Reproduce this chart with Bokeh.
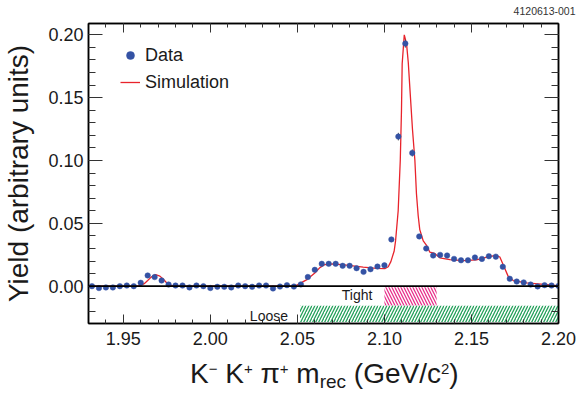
from bokeh.plotting import figure
from bokeh.layouts import column
from bokeh.models import (Range1d, LinearAxis, SingleIntervalTicker, PrintfTickFormatter,
                          Span, Label, Legend, LegendItem, ColumnDataSource, Title,
                          CustomLabelingPolicy, Div)
from bokeh.embed import file_html
from bokeh.resources import INLINE

# ---------------- data ----------------
data_x = [1.932, 1.936, 1.940, 1.944, 1.948, 1.952, 1.956, 1.960, 1.964, 1.968,
          1.972, 1.976, 1.980, 1.984, 1.988, 1.992, 1.996, 2.000, 2.004, 2.008,
          2.012, 2.016, 2.020, 2.024, 2.028, 2.032, 2.036, 2.040, 2.044, 2.048,
          2.052, 2.056, 2.060, 2.064, 2.068, 2.072, 2.076, 2.080, 2.084, 2.088,
          2.092, 2.096, 2.100, 2.104, 2.108, 2.112, 2.116, 2.120, 2.124, 2.128,
          2.132, 2.136, 2.140, 2.144, 2.148, 2.152, 2.156, 2.160, 2.164, 2.168,
          2.172, 2.176, 2.180, 2.184, 2.188, 2.192, 2.196, 2.200]
data_y = [0.0000, -0.0015, -0.0010, -0.0010, 0.0000, 0.0005, 0.0000, 0.0027, 0.0085, 0.0072,
          0.0045, 0.0013, 0.0005, 0.0005, -0.0010, 0.0005, 0.0000, -0.0015, -0.0005, -0.0005,
          -0.0010, 0.0005, 0.0000, -0.0005, 0.0005, 0.0005, -0.0018, -0.0003, 0.0008, -0.0003,
          0.0014, 0.0073, 0.0130, 0.0178, 0.0178, 0.0178, 0.0162, 0.0162, 0.0143, 0.0114,
          0.0135, 0.0156, 0.0166, 0.0372, 0.1190, 0.1930, 0.1060, 0.0396, 0.0300, 0.0244,
          0.0249, 0.0244, 0.0217, 0.0206, 0.0206, 0.0228, 0.0217, 0.0238, 0.0235, 0.0154,
          0.0059, 0.0037, 0.0030, 0.0013, -0.0002, 0.0008, 0.0005, 0.0002]
data_err = [0.0010] * 43 + [0.0015, 0.0030, 0.0032, 0.0028, 0.0015] + [0.0010] * 20

sim_x = [1.930, 1.958, 1.960, 1.962, 1.964, 1.966, 1.9685, 1.971, 1.973, 1.975,
         1.977, 1.979, 2.048, 2.050, 2.0552, 2.060, 2.0629, 2.0658, 2.0706, 2.0782,
         2.0878, 2.0955, 2.1002, 2.1022, 2.1037, 2.1056, 2.1064, 2.1079, 2.1091, 2.1098,
         2.1102, 2.1114, 2.1127, 2.1137, 2.1146, 2.1161, 2.1175, 2.1184, 2.1194, 2.1203,
         2.1213, 2.1223, 2.1242, 2.1261, 2.1289, 2.1318, 2.1376, 2.1453, 2.1529, 2.1605,
         2.1644, 2.1663, 2.1686, 2.1711, 2.1740, 2.1816, 2.1950, 2.2000]
sim_y = [0.0000, 0.0000, 0.0006, 0.0020, 0.0045, 0.0072, 0.0093, 0.0080, 0.0055, 0.0025,
         0.0008, 0.0000, 0.0000, 0.0010, 0.0050, 0.0105, 0.0148, 0.0172, 0.0178, 0.0168,
         0.0152, 0.0142, 0.0139, 0.0155, 0.0195, 0.0280, 0.0360, 0.0600, 0.1000, 0.1400,
         0.1770, 0.2000, 0.1930, 0.1780, 0.1580, 0.1250, 0.1000, 0.0735, 0.0560, 0.0450,
         0.0405, 0.0360, 0.0325, 0.0270, 0.0260, 0.0226, 0.0212, 0.0204, 0.0210, 0.0237,
         0.0244, 0.0232, 0.0158, 0.0078, 0.0045, 0.0027, 0.0011, 0.0003]

tight_range = [2.100, 2.130]
tight_y = [-0.0008, -0.0154]
loose_range = [2.0515, 2.200]
loose_y = [-0.0156, -0.0286]

x_lo, x_hi = 1.93, 2.20
y_lo, y_hi = -0.0297, 0.209

FONT = "Liberation Sans"
TXT = "#1a1a1a"

p = figure(width=581, height=355, output_backend="svg", toolbar_location=None,
           x_range=Range1d(x_lo, x_hi), y_range=Range1d(y_lo, y_hi),
           min_border_left=87, min_border_right=23, min_border_top=23, min_border_bottom=32,
           x_axis_location=None, y_axis_location=None)
p.grid.visible = False
p.outline_line_color = "black"
p.outline_line_width = 1.5
p.background_fill_color = "white"
p.border_fill_color = "white"

no_labels = CustomLabelingPolicy(code="return []")


def make_axis(show_labels, major_in, minor_in):
    ax = LinearAxis(ticker=SingleIntervalTicker(interval=0.05, num_minor_ticks=5),
                    formatter=PrintfTickFormatter(format="%.2f"))
    ax.major_tick_in = major_in
    ax.major_tick_out = 0
    ax.minor_tick_in = minor_in
    ax.minor_tick_out = 0
    ax.major_tick_line_color = "#333333"
    ax.minor_tick_line_color = "#333333"
    ax.major_tick_line_width = 1
    ax.minor_tick_line_width = 1
    ax.axis_line_color = "black"
    ax.axis_line_width = 1.5
    ax.major_label_text_font = FONT
    ax.major_label_text_color = TXT
    if show_labels:
        ax.major_label_text_font_size = "18px"
    else:
        ax.major_label_text_font_size = "1px"
        ax.major_label_standoff = 0
        ax.major_label_policy = no_labels
    return ax


bottom = make_axis(True, 9, 4)
bottom.major_label_standoff = 8
p.add_layout(bottom, "below")
top = make_axis(False, 9, 4)
p.add_layout(top, "above")

left = make_axis(True, 14, 7)
left.major_label_standoff = 5
left.axis_label = "Yield (arbitrary units)"
left.axis_label_text_font = FONT
left.axis_label_text_font_size = "28px"
left.axis_label_text_font_style = "normal"
left.axis_label_text_color = TXT
left.axis_label_standoff = 11
p.add_layout(left, "left")
right = make_axis(False, 14, 7)
p.add_layout(right, "right")

# figure id above the frame
p.add_layout(Title(text="4120613-001", align="right", offset=-17, standoff=9,
                   text_font=FONT, text_font_size="10.5px", text_font_style="normal",
                   text_color="#333333"), "above")

# hatched selection regions
p.quad(left=[tight_range[0]], right=[tight_range[1]], top=[tight_y[0]], bottom=[tight_y[1]],
       fill_alpha=0, line_alpha=0, hatch_pattern="\\", hatch_color="#e8318c",
       hatch_scale=6, hatch_weight=1.3)
p.quad(left=[loose_range[0]], right=[loose_range[1]], top=[loose_y[0]], bottom=[loose_y[1]],
       fill_alpha=0, line_alpha=0, hatch_pattern="/", hatch_color="#23a05a",
       hatch_scale=6, hatch_weight=1.3)

p.add_layout(Span(location=0, dimension="width", line_color="black", line_width=1.6))

ln = p.line(sim_x, sim_y, line_color="#e8232b", line_width=1.3)

src = ColumnDataSource(dict(x=data_x, y=data_y,
                            lo=[a - b for a, b in zip(data_y, data_err)],
                            hi=[a + b for a, b in zip(data_y, data_err)]))
p.segment(x0="x", y0="lo", x1="x", y1="hi", source=src, line_color="#444444", line_width=1)
sc = p.scatter("x", "y", source=src, size=5.5, fill_color="#3452a4", line_color="#3452a4",
               line_width=0.5)

legend = Legend(items=[LegendItem(label="Data", renderers=[sc]),
                       LegendItem(label="Simulation", renderers=[ln])],
                location=(32, 228), padding=0, margin=0, spacing=1,
                glyph_width=20, glyph_height=26, label_height=26, label_standoff=5,
                label_text_font=FONT, label_text_font_size="18px",
                label_text_color=TXT,
                border_line_color=None, background_fill_alpha=0)
p.add_layout(legend)

# region labels
p.add_layout(Label(x=tight_range[0], y=-0.0074, x_offset=-12, text="Tight",
                   text_align="right", text_baseline="middle", text_font=FONT,
                   text_font_size="14px", text_color=TXT))
p.add_layout(Label(x=loose_range[0], y=-0.0237, x_offset=-12, text="Loose",
                   text_align="right", text_baseline="middle", text_font=FONT,
                   text_font_size="14px", text_color=TXT))

# x axis title with sub/superscripts, as HTML below the plot
sup = '<span style="font-size:15px;vertical-align:9px;">{}</span>'
xlabel_html = (
    '<div style="font-family:\'Liberation Sans\',Arial,sans-serif;font-size:28px;'
    'line-height:28px;color:#1a1a1a;white-space:nowrap;padding-top:0px;padding-left:190px;">'
    'K' + sup.format('\u2212') + ' K' + sup.format('+') + ' \u03c0' + sup.format('+') +
    ' m<span style="font-size:19px;vertical-align:-5px;">rec</span>'
    ' (GeV/c' + sup.format('2') + ')</div>'
)
xlabel = Div(text=xlabel_html, width=581, height=38, margin=0)

layout = column(p, xlabel, spacing=0)
open("out.html", "w").write(file_html(layout, INLINE))
